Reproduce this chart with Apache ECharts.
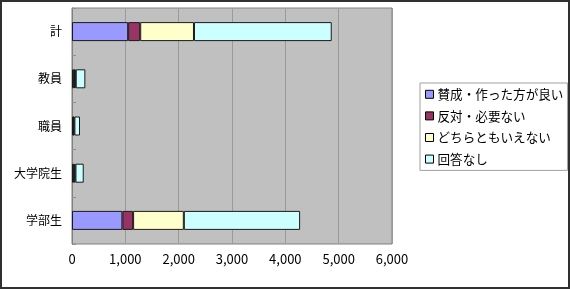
<!DOCTYPE html>
<html><head><meta charset="utf-8">
<script src="https://cdn.jsdelivr.net/npm/echarts@6/dist/echarts.min.js"></script>
<style>html,body{margin:0;padding:0;background:#fff}#c{width:571px;height:289px}</style>
</head><body><div id="c"></div>
<script>
const categories = ['学部生', '大学院生', '職員', '教員', '計'];
const seriesNames = ['賛成・作った方が良い', '反対・必要ない', 'どちらともいえない', '回答なし'];
const sanSei = [945, 35, 25, 40, 1053];
const hantai = [201, 10, 5, 10, 226];
const dochira = [951, 20, 15, 20, 1008];
const kaitouNashi = [2180, 155, 105, 180, 2583];
const xTicks = [0, 1000, 2000, 3000, 4000, 5000, 6000];
const colors = ['#9999FF', '#993366', '#FFFFCC', '#CCFFFF'];
const values = [sanSei, hantai, dochira, kaitouNashi];
const font = '"Noto Sans CJK JP", "Noto Sans", sans-serif';

const chart = echarts.init(document.getElementById('c'), null, {renderer: 'canvas'});
chart.setOption({
  animation: false,
  backgroundColor: '#fff',
  textStyle: {fontFamily: font},
  grid: {left: 72, right: 179, top: 8, bottom: 45, show: true, backgroundColor: '#C0C0C0', borderColor: '#808080', borderWidth: 1},
  xAxis: {
    type: 'value', min: xTicks[0], max: xTicks[xTicks.length - 1], interval: 1000,
    axisLine: {show: false}, axisTick: {show: false},
    splitLine: {show: true, lineStyle: {color: '#9A9A9A', width: 1}},
    axisLabel: {color: '#000', fontSize: 13, fontFamily: font, margin: 9,
      formatter: v => v.toLocaleString('en-US')}
  },
  yAxis: {
    type: 'category', data: categories,
    axisLine: {show: true, lineStyle: {color: '#808080'}},
    axisTick: {show: true, inside: true, length: 4, lineStyle: {color: '#909090'}},
    axisLabel: {color: '#000', fontSize: 12, fontFamily: font, margin: 10}
  },
  legend: {
    orient: 'vertical', left: 420, top: 83,
    padding: [5, 4, 5, 5], itemGap: 9, itemWidth: 8, itemHeight: 8,
    borderColor: '#A0A0A0', borderWidth: 1, backgroundColor: '#fff',
    icon: 'rect',
    textStyle: {fontSize: 12.6, lineHeight: 12, color: '#000', fontFamily: font, padding: [0, 0, 0, -1]},
    data: seriesNames.map((n, i) => ({name: n, itemStyle: {borderColor: '#000', borderWidth: 1}}))
  },
  series: seriesNames.map((n, i) => ({
    name: n, type: 'bar', stack: 'total', data: values[i],
    barWidth: 19,
    itemStyle: {color: colors[i], borderColor: '#1a1a1a', borderWidth: 1}
  })),
  graphic: [{type: 'rect', shape: {x: 1, y: 1, width: 568, height: 287}, style: {fill: 'none', stroke: '#303030', lineWidth: 2}, silent: true, z: 100}]
});
</script></body></html>
